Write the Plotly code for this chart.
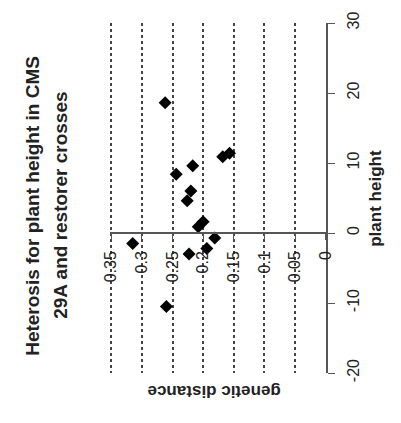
import plotly.graph_objects as go

genetic_distance = [0.262, 0.244, 0.217, 0.220, 0.226, 0.200, 0.208, 0.168, 0.157,
                    0.181, 0.194, 0.315, 0.223, 0.260]
plant_height = [18.6, 8.4, 9.6, 6.0, 4.6, 1.6, 0.9, 10.9, 11.4,
                -0.7, -2.2, -1.5, -3.0, -10.5]
x_ticks = [0.35, 0.3, 0.25, 0.2, 0.15, 0.1, 0.05, 0]
x_tick_labels = ["0.35", "0.3", "0.25", "0.2", "0.15", "0.1", "0.05", "0"]
y_ticks = [-20, -10, 0, 10, 20, 30]
y_tick_labels = ["-20", "-10", "0", "10", "20", "30"]

FONT = "Liberation Sans, Arial, sans-serif"

fig = go.Figure()
fig.add_trace(go.Scatter(
    x=genetic_distance, y=plant_height, mode="markers",
    marker=dict(symbol="diamond", size=10, color="black"),
    cliponaxis=False, showlegend=False,
))

fig.update_layout(
    width=401, height=423,
    margin=dict(l=110, r=75, t=16, b=50),
    paper_bgcolor="white", plot_bgcolor="white",
    font=dict(family=FONT, color="#222"),
    xaxis=dict(
        range=[0.352, -0.0005], tickvals=x_ticks, ticktext=x_tick_labels,
        tickangle=-90, anchor="free", position=0.4,
        showline=True, linecolor="#555", linewidth=1.5,
        ticks="outside", ticklen=6, tickcolor="#555", ticklabelstandoff=5,
        showgrid=True, gridcolor="#444", gridwidth=1.6, griddash="dot",
        zeroline=False, tickfont=dict(size=16, color="#222"),
    ),
    yaxis=dict(
        range=[-20, 30], tickvals=y_ticks, ticktext=y_tick_labels,
        side="right", tickangle=-90,
        showline=True, linecolor="#555", linewidth=1.5,
        ticks="outside", ticklen=7, tickcolor="#555", ticklabelstandoff=5,
        showgrid=False, zeroline=False, tickfont=dict(size=16, color="#222"),
    ),
)

fig.add_annotation(text="<b>Heterosis for plant height in CMS</b>", xref="paper", yref="paper",
                   x=-0.4167, y=0.479, textangle=-90, showarrow=False,
                   font=dict(size=19, color="#222"))
fig.add_annotation(text="<b>29A and restorer crosses</b>", xref="paper", yref="paper",
                   x=-0.287, y=0.479, textangle=-90, showarrow=False,
                   font=dict(size=19, color="#222"))
fig.add_annotation(text="<b>plant height</b>", xref="paper", yref="paper",
                   x=1.282, y=0.499, textangle=-90, showarrow=False,
                   font=dict(size=17, color="#222"))
fig.add_annotation(text="<b>genetic distance</b>", xref="paper", yref="paper",
                   x=0.481, y=-0.084, textangle=180, showarrow=False,
                   font=dict(size=17, color="#222"))

fig.write_html("out.html")
